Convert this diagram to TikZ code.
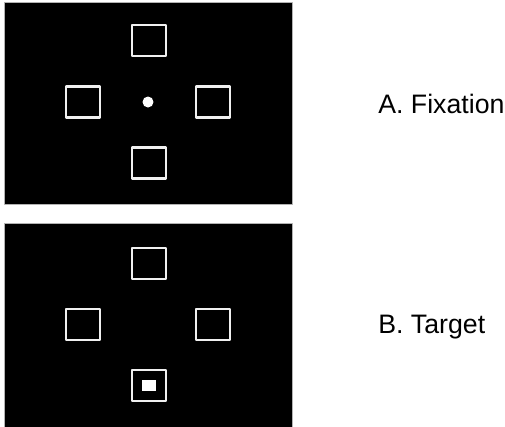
\documentclass[tikz,border=0pt]{standalone}
\usepackage{fontspec}
\setmainfont{Liberation Sans}

\tikzset{
  panel/.style={fill=black, draw=gray!60, line width=0.5pt},
  placeholder/.style={draw=white!88!gray, line width=1.2pt, minimum width=0.68cm, minimum height=0.62cm, inner sep=0pt},
  caption/.style={anchor=base west, inner sep=0pt, font=\fontsize{15.2}{18}\selectfont}
}

\begin{document}
\begin{tikzpicture}[x=0.02cm, y=-0.02cm, line join=round]

\useasboundingbox (0,0) rectangle (505,427);

% A. fixation display
\draw[panel] (4,2) rectangle (292,204);

\node[placeholder] (fixTop) at (149,40.5) {};
\node[placeholder] (fixLeft) at (83,102) {};
\node[placeholder] (fixRight) at (213,102) {};
\node[placeholder] (fixBottom) at (149,163) {};
\node[circle, fill=white, minimum size=0.22cm, inner sep=0pt] (fixDot) at (148,102) {};

\node[caption] (fixLabel) at (378,113) {A. Fixation};

% B. target display
\draw[panel] (4,223) rectangle (292,427);

\node[placeholder] (tgtTop) at (149,263.5) {};
\node[placeholder] (tgtLeft) at (83,324.5) {};
\node[placeholder] (tgtRight) at (213,324.5) {};
\node[placeholder] (tgtBottom) at (149,385.5) {};
\node[fill=white, minimum width=0.27cm, minimum height=0.23cm, inner sep=0pt] (tgtSquare) at (tgtBottom) {};

\node[caption] (tgtLabel) at (378,333) {B. Target};

\end{tikzpicture}
\end{document}
